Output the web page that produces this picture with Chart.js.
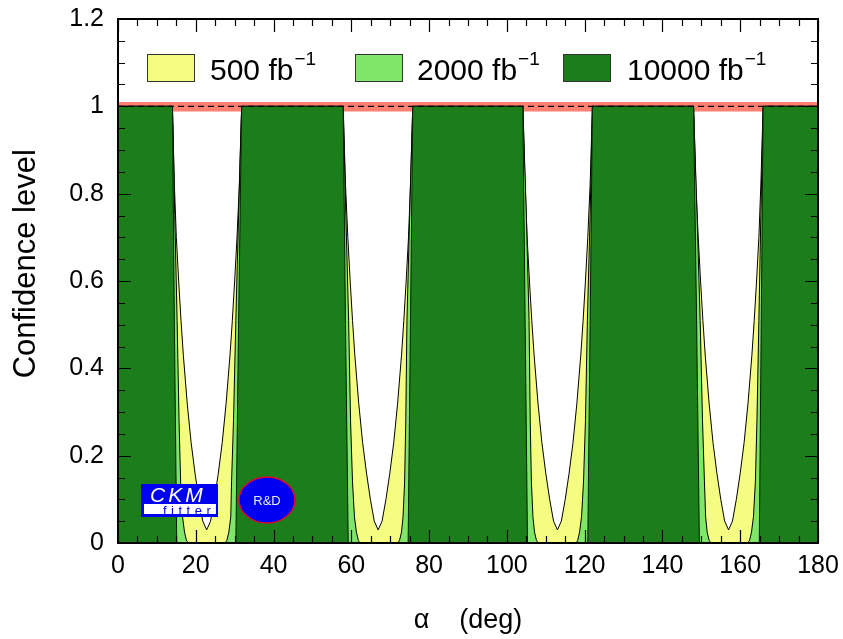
<!DOCTYPE html>
<html>
<head>
<meta charset="utf-8">
<script src="https://cdn.jsdelivr.net/npm/chart.js@4/dist/chart.umd.min.js"></script>
<style>
  html, body { margin: 0; padding: 0; background: #ffffff; }
  #wrap { width: 843px; height: 639px; }
</style>
</head>
<body>
<div id="wrap"><canvas id="c" width="843" height="639"></canvas></div>
<script>
// ---------------- data ----------------
const seriesNames = ["500 fb", "2000 fb", "10000 fb"];

const alpha500 = [0, 14.0, 14.5, 15.0, 15.6, 16.2, 16.8, 17.8, 18.8, 19.8, 20.8, 21.8, 22.8, 23.8, 24.8, 25.8, 26.8, 27.8, 28.8, 29.4, 30.0, 30.6, 31.2, 31.8,
  57.9, 58.5, 59.1, 59.7, 60.3, 60.9, 61.9, 62.9, 63.9, 64.9, 65.9, 66.9, 67.9, 68.9, 69.9, 70.9, 71.9, 72.9, 73.5, 74.1, 74.7, 75.2, 75.8,
  104.1, 104.7, 105.2, 105.8, 106.4, 107.0, 108.0, 109.0, 110.0, 111.0, 112.0, 113.0, 114.0, 115.0, 116.0, 117.0, 118.0, 119.0, 119.6, 120.2, 120.8, 121.4, 122.0,
  148.0, 148.6, 149.2, 149.8, 150.4, 151.0, 152.0, 153.0, 154.0, 155.0, 156.0, 157.0, 158.0, 159.0, 160.0, 161.0, 162.0, 163.0, 163.6, 164.2, 164.8, 165.3, 165.9, 180];
const cl500 = [1, 1.0, 0.82, 0.70, 0.60, 0.51, 0.43, 0.32, 0.23, 0.16, 0.10, 0.05, 0.03, 0.05, 0.10, 0.16, 0.23, 0.32, 0.43, 0.51, 0.60, 0.70, 0.82, 1.0,
  1.0, 0.82, 0.70, 0.60, 0.51, 0.43, 0.32, 0.23, 0.16, 0.10, 0.05, 0.03, 0.05, 0.10, 0.16, 0.23, 0.32, 0.43, 0.51, 0.60, 0.70, 0.82, 1.0,
  1.0, 0.82, 0.70, 0.60, 0.51, 0.43, 0.32, 0.23, 0.16, 0.10, 0.05, 0.03, 0.05, 0.10, 0.16, 0.23, 0.32, 0.43, 0.51, 0.60, 0.70, 0.82, 1.0,
  1.0, 0.82, 0.70, 0.60, 0.51, 0.43, 0.32, 0.23, 0.16, 0.10, 0.05, 0.03, 0.05, 0.10, 0.16, 0.23, 0.32, 0.43, 0.51, 0.60, 0.70, 0.82, 1.0, 1];

const alpha2000 = [0, 14.0, 14.6, 15.2, 15.7, 16.1, 16.6, 17.1, 17.6, 18.1, 27.5, 28.0, 28.5, 29.0, 29.2, 29.7, 30.3, 31.0, 31.8,
  57.9, 58.6, 59.3, 59.8, 60.3, 60.8, 61.3, 61.8, 62.2, 71.9, 72.4, 72.9, 73.3, 73.7, 74.0, 74.3, 75.0, 75.8,
  104.1, 105.0, 105.7, 106.0, 106.3, 106.7, 107.1, 107.6, 108.1, 117.8, 118.2, 118.7, 119.2, 119.7, 120.2, 120.7, 121.4, 122.0,
  148.0, 148.9, 149.7, 150.3, 150.8, 151.1, 151.5, 152.0, 152.5, 161.9, 162.4, 162.9, 163.4, 163.9, 164.3, 164.8, 165.3, 165.9, 180];
const cl2000 = [1, 1.0, 0.75, 0.51, 0.28, 0.14, 0.06, 0.025, 0.006, 0, 0, 0.006, 0.025, 0.06, 0.14, 0.28, 0.51, 0.75, 1.0,
  1.0, 0.75, 0.51, 0.28, 0.14, 0.06, 0.025, 0.006, 0, 0, 0.006, 0.025, 0.06, 0.14, 0.28, 0.51, 0.75, 1.0,
  1.0, 0.75, 0.51, 0.28, 0.14, 0.06, 0.025, 0.006, 0, 0, 0.006, 0.025, 0.06, 0.14, 0.28, 0.51, 0.75, 1.0,
  1.0, 0.75, 0.51, 0.28, 0.14, 0.06, 0.025, 0.006, 0, 0, 0.006, 0.025, 0.06, 0.14, 0.28, 0.51, 0.75, 1.0, 1];

const alpha10000 = [0, 14.0, 14.5, 15.1, 30.3, 31.0, 31.8,
  57.9, 58.5, 59.2, 74.6, 75.2, 75.8,
  104.1, 104.7, 105.3, 120.8, 121.4, 122.0,
  148.0, 148.8, 149.5, 164.9, 165.4, 165.9, 180];
const cl10000 = [1, 1.0, 0.5, 0, 0, 0.5, 1.0,
  1.0, 0.5, 0, 0, 0.5, 1.0,
  1.0, 0.5, 0, 0, 0.5, 1.0,
  1.0, 0.5, 0, 0, 0.5, 1.0, 1];

const xTicks = [0, 20, 40, 60, 80, 100, 120, 140, 160, 180];
const yTicks = [0, 0.2, 0.4, 0.6, 0.8, 1, 1.2];
const bandLow = 0.988, bandHigh = 1.01, refLevel = 1.0;

// ---------------- colours ----------------
const C_YELLOW = "#f4fc82";
const C_LGREEN = "#80e66a";
const C_DGREEN = "#1b7e1b";
const C_BAND = "#ff8070";

const pts = (xs, ys) => xs.map((x, i) => ({ x: x, y: ys[i] }));
const FONT = "'Liberation Sans', Arial, Helvetica, sans-serif";

// ---------------- plugins ----------------
const framePlugin = {
  id: "frame",
  afterDraw(chart) {
    const { ctx, chartArea: a, scales } = chart;
    const xs = scales.x, ys = scales.y;
    ctx.save();
    ctx.strokeStyle = "#000";
    ctx.lineWidth = 1.2;
    for (let v = 0; v <= 180; v += 5) {
      const px = Math.round(xs.getPixelForValue(v)) + 0.5;
      const len = (v % 20 === 0) ? 13 : 7;
      ctx.beginPath();
      ctx.moveTo(px, a.bottom); ctx.lineTo(px, a.bottom - len);
      ctx.moveTo(px, a.top); ctx.lineTo(px, a.top + len);
      ctx.stroke();
    }
    for (let k = 0; k <= 24; k++) {
      const v = k * 0.05;
      const py = Math.round(ys.getPixelForValue(v)) + 0.5;
      const len = (k % 4 === 0) ? 13 : 7;
      ctx.beginPath();
      ctx.moveTo(a.left, py); ctx.lineTo(a.left + len, py);
      ctx.moveTo(a.right, py); ctx.lineTo(a.right - len, py);
      ctx.stroke();
    }
    ctx.lineWidth = 2;
    ctx.strokeRect(a.left, a.top, a.right - a.left, a.bottom - a.top);

    // legend
    const items = [
      { c: C_YELLOW, bx: 147, tx: 210, label: seriesNames[0] },
      { c: C_LGREEN, bx: 355, tx: 417, label: seriesNames[1] },
      { c: C_DGREEN, bx: 563, tx: 627, label: seriesNames[2] }
    ];
    items.forEach(it => {
      ctx.fillStyle = it.c;
      ctx.fillRect(it.bx, 54, 47, 27);
      ctx.lineWidth = 1;
      ctx.strokeStyle = "#333";
      ctx.strokeRect(it.bx + 0.5, 54.5, 47, 27);
      ctx.fillStyle = "#000";
      ctx.font = "30px " + FONT;
      ctx.textBaseline = "alphabetic";
      ctx.textAlign = "left";
      ctx.fillText(it.label, it.tx, 80);
      const w = ctx.measureText(it.label).width;
      ctx.font = "19px " + FONT;
      ctx.fillText("\u22121", it.tx + w + 1, 65);
    });

    // CKMfitter logo
    ctx.fillStyle = "#0000f0";
    ctx.fillRect(141, 484, 77, 33);
    ctx.fillStyle = "#ffffff";
    ctx.fillRect(144, 504, 72, 10);
    ctx.fillStyle = "#ffffff";
    ctx.font = "italic 21px " + FONT;
    let cx = 150;
    for (const ch of "CKM") { ctx.fillText(ch, cx, 502); cx += ctx.measureText(ch).width + 3; }
    ctx.fillStyle = "#0000f0";
    ctx.font = "13px " + FONT;
    let fx = 163;
    for (const ch of "fitter") { ctx.fillText(ch, fx, 515); fx += ctx.measureText(ch).width + 4.5; }

    // R&D logo
    ctx.beginPath();
    ctx.ellipse(267, 500, 28, 23, 0, 0, Math.PI * 2);
    ctx.fillStyle = "#0000f0";
    ctx.fill();
    ctx.strokeStyle = "#e00030";
    ctx.lineWidth = 1.5;
    ctx.stroke();
    ctx.fillStyle = "#e8e8ff";
    ctx.font = "13px " + FONT;
    ctx.textAlign = "center";
    ctx.textBaseline = "middle";
    ctx.fillText("R&D", 267, 501);
    ctx.restore();
  }
};

const bgPlugin = {
  id: "bg",
  beforeDraw(chart) {
    const ctx = chart.ctx;
    ctx.save();
    ctx.fillStyle = "#ffffff";
    ctx.fillRect(0, 0, chart.width, chart.height);
    ctx.restore();
  }
};

new Chart(document.getElementById("c"), {
  type: "line",
  data: {
    datasets: [
      { label: "band", data: pts([0, 180], [bandHigh, bandHigh]), borderWidth: 0, borderColor: "rgba(0,0,0,0)",
        backgroundColor: C_BAND, fill: { value: bandLow }, order: 10 },
      { label: seriesNames[0], data: pts(alpha500, cl500), borderColor: "#000", borderWidth: 1,
        backgroundColor: C_YELLOW, fill: "origin", order: 9 },
      { label: seriesNames[1], data: pts(alpha2000, cl2000), borderColor: "#000", borderWidth: 1,
        backgroundColor: C_LGREEN, fill: "origin", order: 8 },
      { label: seriesNames[2], data: pts(alpha10000, cl10000), borderColor: "#002000", borderWidth: 1,
        backgroundColor: C_DGREEN, fill: "origin", order: 7 },
      { label: "ref", data: pts([0, 180], [refLevel, refLevel]), borderColor: "#000", borderWidth: 1.3,
        borderDash: [6, 4], fill: false, order: 1 }
    ]
  },
  options: {
    responsive: false,
    animation: false,
    devicePixelRatio: 1,
    layout: { padding: { top: 19, right: 25, left: 0, bottom: 0 } },
    elements: { point: { radius: 0 }, line: { tension: 0 } },
    plugins: { legend: { display: false }, tooltip: { enabled: false } },
    scales: {
      x: {
        type: "linear", min: 0, max: 180,
        afterBuildTicks: (s) => { s.ticks = xTicks.map(v => ({ value: v })); },
        afterFit: (s) => { s.height = 96; s.paddingLeft = 0; s.paddingRight = 0; },
        grid: { display: false, drawTicks: false },
        border: { display: false },
        ticks: { color: "#000", font: { family: FONT, size: 25 }, padding: 8, maxRotation: 0 },
        title: { display: true, text: "\u03b1    (deg)", color: "#000", font: { family: FONT, size: 27, lineHeight: 1.2 }, padding: { top: 0, bottom: 2 } }
      },
      y: {
        type: "linear", min: 0, max: 1.2,
        afterBuildTicks: (s) => { s.ticks = yTicks.map(v => ({ value: v })); },
        afterFit: (s) => { s.width = 118; s.paddingTop = 0; s.paddingBottom = 0; },
        grid: { display: false, drawTicks: false },
        border: { display: false },
        ticks: { color: "#000", font: { family: FONT, size: 25 }, padding: 14,
                 callback: (v) => String(Math.round(v * 10) / 10) },
        title: { display: true, text: "    Confidence level", color: "#000", font: { family: FONT, size: 31, lineHeight: 1.2 }, padding: { top: 8, bottom: 0 } }
      }
    }
  },
  plugins: [bgPlugin, framePlugin]
});
</script>
</body>
</html>
